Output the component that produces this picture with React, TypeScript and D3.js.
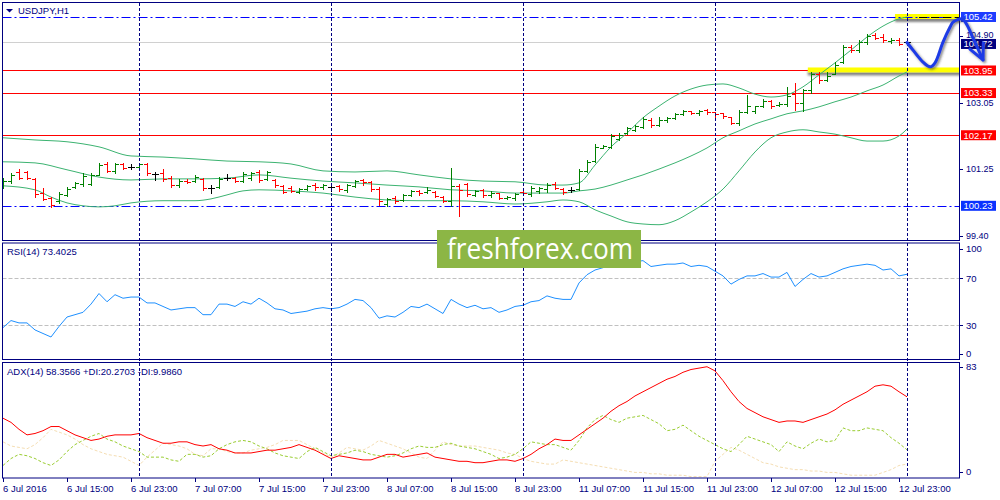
import React from "react";
import * as d3 from "d3";

// ---------- DATA (USDJPY H1, 6 Jul 07:00 .. 13 Jul 00:00) ----------
const opens = [
  100.75,100.90,101.16,101.15,100.97,100.58,100.44,100.36,100.53,100.74,
  100.83,100.84,101.08,101.38,101.18,101.38,101.30,101.29,101.38,101.10,
  101.13,100.99,100.80,100.92,100.90,100.97,100.71,100.74,101.00,101.00,
  100.92,101.00,101.15,100.97,100.95,100.78,100.72,100.61,100.69,100.79,
  100.74,100.74,100.78,100.66,100.78,100.93,100.88,100.70,100.28,100.45,
  100.38,100.52,100.64,100.62,100.62,100.48,100.37,100.77,100.83,100.53,
  100.66,100.52,100.58,100.44,100.44,100.61,100.55,100.63,100.70,100.84,
  100.70,100.66,100.68,101.19,101.46,101.83,101.86,102.07,102.23,102.32,
  102.40,102.60,102.45,102.58,102.64,102.76,102.83,102.78,102.86,102.80,
  102.77,102.66,102.50,102.82,102.84,102.98,103.12,103.01,103.02,103.30,
  103.05,103.40,103.85,103.70,103.85,104.18,104.60,104.50,104.72,104.93,
  104.88,104.76,104.80,104.72,
];
const highs = [
  100.99,101.13,101.24,101.19,100.99,100.72,100.47,100.61,100.75,100.88,
  101.13,101.13,101.41,101.44,101.41,101.41,101.38,101.41,101.41,101.16,
  101.24,101.05,100.97,100.97,101.08,100.99,100.80,101.02,101.10,101.02,
  101.16,101.16,101.22,101.19,100.97,100.80,100.77,100.72,100.80,100.86,
  100.83,100.77,100.80,100.83,100.94,100.97,100.91,100.75,100.45,100.50,
  100.56,100.67,100.67,100.75,100.64,100.50,101.27,100.83,100.86,100.67,
  100.69,100.64,100.58,100.50,100.58,100.67,100.77,100.75,100.86,100.88,
  100.72,100.75,101.24,101.49,101.93,101.90,102.21,102.23,102.40,102.45,
  102.67,102.65,102.67,102.67,102.78,102.87,102.84,102.87,102.89,102.81,
  102.78,102.67,102.87,103.28,102.98,103.17,103.14,103.08,103.50,103.61,
  103.44,103.91,103.91,103.91,104.18,104.65,104.65,104.79,104.95,104.98,
  104.95,104.84,104.84,104.73,
];
const lows = [
  100.72,100.86,100.97,100.97,100.47,100.39,100.20,100.31,100.50,100.72,
  100.77,100.80,101.08,101.16,101.13,101.24,101.24,101.27,101.08,100.94,
  100.91,100.75,100.75,100.86,100.88,100.67,100.58,100.72,100.94,100.88,
  100.88,100.94,100.88,100.94,100.75,100.58,100.61,100.58,100.67,100.67,
  100.69,100.64,100.64,100.61,100.75,100.80,100.64,100.26,100.23,100.31,
  100.36,100.50,100.53,100.58,100.47,100.34,100.23,99.95,100.50,100.50,
  100.47,100.47,100.42,100.42,100.39,100.53,100.50,100.58,100.61,100.69,
  100.56,100.61,100.67,101.16,101.44,101.82,101.82,102.04,102.21,102.29,
  102.37,102.40,102.42,102.53,102.62,102.73,102.76,102.73,102.76,102.67,
  102.65,102.48,102.45,102.78,102.78,102.95,102.92,102.98,102.98,102.87,
  102.84,103.33,103.61,103.66,103.85,104.16,104.46,104.46,104.68,104.81,
  104.73,104.71,104.65,104.65,
];
const closes = [
  100.92,101.08,101.00,101.00,100.56,100.42,100.25,100.55,100.70,100.85,
  101.05,101.07,101.36,101.20,101.38,101.27,101.30,101.38,101.12,101.10,
  100.97,100.80,100.92,100.88,101.02,100.72,100.71,100.97,101.00,100.91,
  101.10,101.12,100.95,101.15,100.80,100.62,100.64,100.70,100.77,100.75,
  100.79,100.74,100.68,100.79,100.91,100.88,100.69,100.35,100.42,100.36,
  100.52,100.64,100.58,100.66,100.50,100.37,100.77,100.66,100.55,100.64,
  100.53,100.58,100.45,100.47,100.55,100.58,100.72,100.72,100.80,100.72,
  100.60,100.66,101.19,101.44,101.86,101.88,102.15,102.18,102.36,102.42,
  102.62,102.45,102.60,102.63,102.74,102.83,102.79,102.84,102.81,102.76,
  102.70,102.50,102.82,102.98,102.96,103.12,102.96,103.03,103.25,103.05,
  103.40,103.85,103.70,103.80,104.10,104.60,104.50,104.72,104.90,104.85,
  104.78,104.80,104.68,104.72,
];

// Bollinger Bands sampled at bar indices
const bbIndex = [0,4,8,12,16,20,24,28,32,36,40,44,48,52,56,60,64,68,70,72,74,76,78,80,82,84,86,88,90,92,94,96,98,100,102,104,106,108,110,112,113];
const bbUpper = [102.10,102.04,101.99,101.85,101.60,101.57,101.52,101.46,101.44,101.38,101.19,101.16,101.19,101.08,100.97,100.91,100.89,100.80,100.80,100.86,101.35,101.85,102.23,102.65,102.97,103.25,103.44,103.55,103.58,103.47,103.30,103.22,103.28,103.50,103.83,104.16,104.51,104.87,105.17,105.37,105.42];
const bbMiddle = [101.44,101.41,101.22,101.02,100.94,100.97,100.97,100.99,101.08,100.99,100.91,100.86,100.80,100.75,100.67,100.64,100.58,100.58,100.58,100.64,100.69,100.80,100.94,101.08,101.24,101.41,101.60,101.82,102.10,102.29,102.48,102.62,102.76,102.84,102.95,103.09,103.22,103.39,103.55,103.80,103.91];
const bbLowerIndex = [0,4,6,8,10,12,14,16,20,24,26,28,30,32,36,40,44,48,52,56,60,64,68,70,72,74,76,78,80,82,84,86,88,90,92,94,96,98,100,102,104,106,108,110,112,113];
const bbLower = [100.78,100.67,100.47,100.31,100.23,100.20,100.23,100.31,100.37,100.37,100.42,100.53,100.64,100.67,100.64,100.58,100.47,100.39,100.37,100.37,100.34,100.28,100.34,100.39,100.34,100.12,99.95,99.79,99.73,99.71,99.82,100.06,100.34,100.69,101.19,101.71,102.10,102.26,102.32,102.26,102.20,102.10,102.01,102.01,102.15,102.34];

const rsi = [
  28,34,32,32,26,23,20,29,37,39, 41,48,57,50,56,53,54,54,49,49,
  46,43,44,45,45,39,39,48,48,46, 50,48,53,49,44,43,40,41,42,44,
  45,44,45,48,52,51,45,36,38,37, 41,46,45,48,44,40,52,48,45,47,
  44,45,41,43,46,47,50,51,55,53, 52,52,66,73,77,79,81,82,83,84,
  85,80,81,82,82,83,80,81,80,76, 72,65,69,72,72,74,71,71,75,63,
  69,74,71,72,75,78,80,81,82,81, 77,78,72,73.4025,
];
const adx = [
  43,40,35,31,32,34,37,37,34,31, 29,27,28,30,31,31,31,32,29,27,
  25,25,26,26,24,23,24,21,20,18, 18,18,19,20,20,21,22,24,22,20,
  17,14,16,15,14,13,13,15,17,17, 15,16,17,18,15,14,13,12,12,11,
  11,12,13,13,12,14,17,21,24,28, 27,27,31,35,39,43,48,52,55,59,
  62,65,68,71,73,76,78,79,80,77, 70,62,55,50,47,44,42,40,41,41,
  40,42,44,46,49,53,56,59,62,66, 67,66,62,58.3566,
];
const plusDI = [
  9,14,17,16,14,11,9,13,19,24, 27,30,32,28,26,23,21,19,15,15,
  15,13,12,17,17,15,16,21,24,26, 27,26,23,21,18,16,15,14,19,22,
  19,16,17,18,20,19,17,16,15,16, 18,21,23,22,22,24,25,23,22,21,
  19,17,14,15,17,21,26,25,24,24, 22,20,27,36,42,45,42,40,43,44,
  45,42,39,34,35,38,34,30,27,24, 21,19,24,30,28,26,24,19,26,23,
  21,25,28,26,27,36,34,34,36,35, 34,29,25,20.2703,
];
const minusDI = [
  26,23,22,21,24,29,35,33,31,28, 24,21,19,17,16,15,12,9,15,20,
  25,24,23,21,17,16,21,21,19,18, 18,20,21,22,24,27,27,27,24,21,
  18,15,18,22,21,20,23,27,25,23, 21,18,15,14,20,26,24,23,23,23,
  22,21,20,18,17,14,12,11,10,10, 13,12,11,10,9,8,7,6,5,4,
  4,3,3,2,2,2,1,1,1,12, 17,22,20,17,14,11,10,8,7,6,
  6,5,5,4,4,3,2,2,2,2, 4,6,9,9.986,
];

const timeLabels = ["6 Jul 2016","6 Jul 15:00","6 Jul 23:00","7 Jul 07:00","7 Jul 15:00","7 Jul 23:00","8 Jul 07:00","8 Jul 15:00","8 Jul 23:00","11 Jul 07:00","11 Jul 15:00","11 Jul 23:00","12 Jul 07:00","12 Jul 15:00","12 Jul 23:00"];
const timeLabelStep = 8;
const daySeparators = [17, 41, 65, 89, 113];

const priceTicks = [104.90, 103.05, 101.25, 99.40];
const redLevels = [103.95, 103.33, 102.17];
const blueLevels = [105.42, 100.23];
const bidPrice = 104.72;
const yellowZones = [
  { price: 105.42, fromBar: 111.5 },
  { price: 103.95, fromBar: 100.6 },
];
const rsiTicks = [100, 70, 30, 0];
const rsiLevels = [70, 30];
const adxMax = 83;

// hand-drawn forecast arrow in (bar, price)
const arrowBars = [113, 113.75, 115, 115.9, 116.5, 117.5, 118.4, 118.75, 119.9, 120.5, 121.25, 122.5];
const arrowPrices = [104.72, 104.51, 104.18, 104.05, 104.16, 104.73, 105.15, 105.28, 105.37, 105.20, 104.84, 104.24];

const NAVY = "#000080";
const FONT = "'Liberation Sans', Arial, sans-serif";

export default function App() {
  const xs = d3.scaleLinear().domain([0, 113]).range([3, 907]);
  const yP = d3.scaleLinear().domain([99.40, 105.42]).range([236, 17]);
  const yR = d3.scaleLinear().domain([0, 100]).range([360.5, 243]);
  const yA = d3.scaleLinear().domain([0, 83.4]).range([478, 362]);
  const px = (v: number) => Math.round(v) + 0.5;
  const AX = 959.5; // right axis line
  const L = 2.5;

  const bars = opens.map((o, i) => {
    const c = closes[i];
    const x = px(xs(i));
    const color = c > o ? "#008000" : c < o ? "#ff0000" : "#000000";
    const d = `M${x},${px(yP(highs[i])) - 0.5}V${px(yP(lows[i])) + 0.5}M${x - 3.5},${px(yP(o))}H${x}M${x},${px(yP(c))}H${x + 3.5}`;
    return <path key={i} d={d} stroke={color} strokeWidth={1} fill="none" />;
  });

  const bbLine = (idx: number[], vals: number[]) =>
    d3.line<number>().x((_, k) => xs(idx[k])).y((v) => yP(v)).curve(d3.curveMonotoneX)(vals) || "";

  const seriesLine = (vals: number[], ys: d3.ScaleLinear<number, number>) =>
    d3.line<number>().x((_, k) => xs(k)).y((v) => ys(v))(vals) || "";

  const arrowPts: [number, number][] = arrowBars.map((b, k) => [xs(b), yP(arrowPrices[k])]);
  const arrowPath = d3.line().curve(d3.curveCatmullRom)(arrowPts) || "";
  const tip = arrowPts[arrowPts.length - 1];
  const prev = arrowPts[arrowPts.length - 2];
  const ang = Math.atan2(tip[1] - prev[1], tip[0] - prev[0]);
  const barb = (a: number) => [tip[0] - 17 * Math.cos(ang + a), tip[1] - 17 * Math.sin(ang + a)];
  const b1 = barb(0.45), b2 = barb(-0.45);

  const box = (price: number, bg: string, key: string, shift = 0) => (
    <g key={key}>
      <rect x={961} y={yP(price) - 5 + shift} width={35} height={10} fill={bg} />
      <text x={963.5} y={yP(price) + shift} dy="0.35em" fill="#ffffff" fontSize={9.5} fontFamily={FONT}>
        {price.toFixed(2)}
      </text>
    </g>
  );

  return (
    <svg width={1000} height={500} style={{ position: "absolute", left: 0, top: 0, background: "#fff" }}>
      <defs>
        <clipPath id="mainClip"><rect x={3} y={3} width={956} height={237} /></clipPath>
        <filter id="ysh" x="-5%" y="-100%" width="110%" height="400%">
          <feDropShadow dx="0" dy="3" stdDeviation="1.2" floodColor="#707070" floodOpacity="0.85" />
        </filter>
        <filter id="ash" x="-20%" y="-20%" width="140%" height="140%">
          <feDropShadow dx="1.5" dy="1.5" stdDeviation="0.8" floodColor="#303030" floodOpacity="0.6" />
        </filter>
      </defs>
      <rect x={0} y={0} width={1000} height={500} fill="#ffffff" />

      {/* main panel */}
      <g clipPath="url(#mainClip)">
        <line x1={L} x2={AX} y1={px(yP(bidPrice))} y2={px(yP(bidPrice))} stroke="#d0d0d0" />
        {redLevels.map((p) => (
          <line key={p} x1={L} x2={AX} y1={px(yP(p))} y2={px(yP(p))} stroke="#ff0000" />
        ))}
        {yellowZones.map((z) => (
          <rect key={z.price} x={xs(z.fromBar)} y={yP(z.price) - 3} width={962 - xs(z.fromBar)} height={5} fill="#ffff00" filter="url(#ysh)" />
        ))}
        {blueLevels.map((p) => (
          <line key={p} x1={L} x2={AX} y1={px(yP(p))} y2={px(yP(p))} stroke="#0000ff" strokeDasharray="9,3,2,3" />
        ))}
        <line x1={xs(114.5)} x2={AX} y1={px(yP(105.42))} y2={px(yP(105.42))} stroke="#000000" strokeDasharray="8,4" />
        <path d={bbLine(bbIndex, bbUpper)} fill="none" stroke="#3cb371" />
        <path d={bbLine(bbIndex, bbMiddle)} fill="none" stroke="#3cb371" />
        <path d={bbLine(bbLowerIndex, bbLower)} fill="none" stroke="#3cb371" />
        {bars}
      </g>

      {/* RSI panel */}
      {rsiLevels.map((v) => (
        <line key={v} x1={L} x2={AX} y1={px(yR(v))} y2={px(yR(v))} stroke="#c0c0c0" strokeDasharray="4,2" />
      ))}
      <path d={seriesLine(rsi, yR)} fill="none" stroke="#1e90ff" />

      {/* ADX panel */}
      <path d={seriesLine(minusDI, yA)} fill="none" stroke="#f5deb3" strokeDasharray="3,2" />
      <path d={seriesLine(plusDI, yA)} fill="none" stroke="#9acd32" strokeDasharray="3,2" />
      <path d={seriesLine(adx, yA)} fill="none" stroke="#ff0000" />

      {/* day separators */}
      {daySeparators.map((b) => (
        <line key={b} x1={px(xs(b))} x2={px(xs(b))} y1={3} y2={478} stroke={NAVY} strokeDasharray="3,2" />
      ))}

      {/* panel frames */}
      <rect x={L} y={2.5} width={AX - L} height={238} fill="none" stroke={NAVY} />
      <rect x={L} y={243} width={AX - L} height={116.5} fill="none" stroke={NAVY} />
      <rect x={L} y={362.5} width={AX - L} height={115.5} fill="none" stroke={NAVY} />

      {/* title & indicator labels */}
      <path d="M6,9 L13,9 L9.5,12.5 Z" fill={NAVY} />
      <text x={18} y={14} fontSize={9.5} fontFamily={FONT} fill={NAVY}>USDJPY,H1</text>
      <text x={7} y={255} fontSize={9.5} fontFamily={FONT} fill={NAVY}>RSI(14) 73.4025</text>
      <text x={7} y={375} fontSize={9.5} fontFamily={FONT} fill={NAVY}>ADX(14) 58.3566 +DI:20.2703 -DI:9.9860</text>

      {/* price axis */}
      {priceTicks.map((p) => (
        <g key={p}>
          <line x1={960} x2={963} y1={px(yP(p))} y2={px(yP(p))} stroke={NAVY} />
          <text x={966} y={yP(p) - (p === 104.90 ? 1.5 : 0)} dy="0.35em" fontSize={9} fontFamily={FONT} fill={NAVY}>{p.toFixed(2)}</text>
        </g>
      ))}
      {box(105.42, "#1e3cff", "b1")}
      {box(bidPrice, "#000080", "b2", 1.5)}
      {redLevels.map((p) => box(p, "#ff0000", "r" + p))}
      {box(100.23, "#0a32ff", "b3")}

      {/* RSI axis */}
      {rsiTicks.map((v) => {
        const y = v === 100 ? yR(v) + 6 : v === 0 ? yR(v) - 7 : yR(v);
        return (
          <g key={v}>
            <line x1={960} x2={963} y1={px(y)} y2={px(y)} stroke={NAVY} />
            <text x={966} y={y} dy="0.35em" fontSize={9.5} fontFamily={FONT} fill={NAVY}>{v}</text>
          </g>
        );
      })}
      {/* ADX axis */}
      {[adxMax, 0].map((v) => {
        const y = v === 0 ? yA(0) - 6 : yA(v) + 4;
        return (
          <g key={v}>
            <line x1={960} x2={963} y1={px(y)} y2={px(y)} stroke={NAVY} />
            <text x={966} y={y} dy="0.35em" fontSize={9.5} fontFamily={FONT} fill={NAVY}>{v}</text>
          </g>
        );
      })}

      {/* time axis */}
      {timeLabels.map((t, k) => {
        const x = px(xs(k * timeLabelStep));
        return (
          <g key={t}>
            <line x1={x} x2={x} y1={478} y2={482} stroke={NAVY} />
            <text x={x - 0.5} y={492} fontSize={9.5} fontFamily={FONT} fill={NAVY}>{t}</text>
          </g>
        );
      })}

      {/* watermark */}
      <rect x={437} y={230} width={204} height={38} fill="#8cb645" />
      <text x={447} y={259} fontSize={30} fontFamily="'Open Sans', sans-serif" fill="#ffffff" textLength={186} lengthAdjust="spacingAndGlyphs">freshforex.com</text>

      {/* forecast arrow */}
      <g filter="url(#ash)" stroke="#1f3ae6" strokeWidth={3} fill="none" strokeLinecap="round" strokeLinejoin="round">
        <path d={arrowPath} />
        <path d={`M${b1[0]},${b1[1]}L${tip[0]},${tip[1]}L${b2[0]},${b2[1]}`} />
      </g>
    </svg>
  );
}
